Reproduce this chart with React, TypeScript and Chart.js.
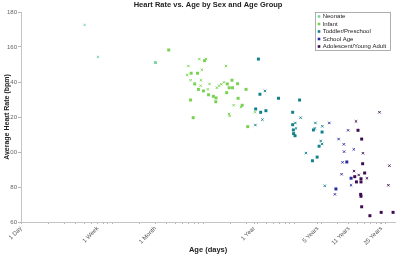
import React, { useEffect, useRef } from "react";
import { Chart, registerables } from "chart.js";

Chart.register(...registerables);

// ---- Data (age in days, average heart rate in bpm) ----
const groupNames = ["Neonate", "Infant", "Toddler/Preschool", "School Age", "Adolescent/Young Adult"];
const groupColors = ["#7fd4a4", "#78d24f", "#10808a", "#2a2aa0", "#3c0a50"];

const neonateMaleAge = [30];
const neonateMaleHR = [151.1];
const neonateFemaleAge = [5, 7];
const neonateFemaleHR = [172.6, 154.3];

const infantMaleAge = [42, 104, 74, 87, 81, 185, 208, 240, 194, 211, 297, 89, 101, 115, 130, 139, 138, 182, 73, 243, 269, 78, 310];
const infantMaleHR = [158.3, 152.2, 145.0, 145.0, 138.9, 138.9, 141.0, 139.0, 136.7, 136.7, 135.8, 135.8, 134.9, 132.7, 131.8, 130.9, 128.7, 133.9, 129.7, 130.7, 126.7, 119.6, 114.5];
const infantFemaleAge = [91, 108, 179, 69, 97, 67, 73, 95, 94, 118, 170, 159, 150, 142, 113, 217, 262, 193, 196, 373];
const infantFemaleHR = [153.1, 153.1, 149.1, 149.1, 147.0, 144.0, 141.0, 141.0, 137.9, 138.9, 139.8, 138.7, 137.9, 136.7, 135.8, 126.7, 125.7, 121.7, 120.6, 122.7];

const toddlerMaleAge = [406, 422, 675, 379, 430, 491, 1151, 966, 966, 983, 990, 1026, 1634, 2032, 1885, 1794, 1594];
const toddlerMaleHR = [153.1, 133.0, 130.7, 124.6, 122.7, 123.6, 129.7, 122.7, 115.6, 112.6, 110.5, 109.3, 112.6, 111.4, 103.3, 97.1, 95.0];
const toddlerFemaleAge = [479, 449, 376, 1180, 1033, 1052, 1718, 1692, 2047, 1967, 2032, 1351, 2175];
const toddlerFemaleHR = [134.9, 118.5, 115.4, 119.6, 116.6, 113.5, 116.6, 113.5, 114.7, 106.3, 104.6, 99.4, 80.7];

const schoolMaleAge = [3802, 4235, 2886];
const schoolMaleHR = [94.3, 85.0, 78.9];
const schoolFemaleAge = [2440, 3928, 3090, 3525, 3553, 4531, 3413, 3329, 4235, 2814];
const schoolFemaleHR = [116.6, 112.4, 107.4, 104.4, 100.2, 101.5, 94.1, 87.3, 81.0, 75.8];

const adolMaleAge = [5046, 5537, 5675, 5970, 4645, 5442, 4851, 5442, 5400, 5442, 5537, 6820, 9070, 12250];
const adolMaleHR = [112.4, 107.4, 93.3, 88.0, 85.9, 84.7, 82.9, 82.9, 75.8, 74.7, 68.7, 63.6, 65.5, 65.5];
const adolFemaleAge = [8690, 4800, 5718, 11170, 4565, 5137, 6324, 10890];
const adolFemaleHR = [122.7, 117.5, 99.3, 92.2, 89.1, 86.9, 85.0, 81.0];

const xTickDays = [1, 7, 30, 365, 1825, 4015, 9125];
const xTickLabels = ["1 Day", "1 Week", "1 Month", "1 Year", "5 Years", "11 Years", "25 Years"];
const yTicks = [60, 80, 100, 120, 140, 160, 180];

const X_MIN = 1;
const X_MAX = 12900;

const groupData = [
  { m: [neonateMaleAge, neonateMaleHR], f: [neonateFemaleAge, neonateFemaleHR] },
  { m: [infantMaleAge, infantMaleHR], f: [infantFemaleAge, infantFemaleHR] },
  { m: [toddlerMaleAge, toddlerMaleHR], f: [toddlerFemaleAge, toddlerFemaleHR] },
  { m: [schoolMaleAge, schoolMaleHR], f: [schoolFemaleAge, schoolFemaleHR] },
  { m: [adolMaleAge, adolMaleHR], f: [adolFemaleAge, adolFemaleHR] },
];

const toPts = (ages: number[], hr: number[]) => ages.map((a, i) => ({ x: a, y: hr[i] }));

const FONT = "'Liberation Sans', Arial, Helvetica, sans-serif";

const legendPlugin = {
  id: "boxLegend",
  afterDatasetsDraw(chart: any) {
    const { ctx, chartArea } = chart;
    const w = 75;
    const h = 38;
    const x0 = Math.round(chartArea.right - 80) + 0.5;
    const y0 = Math.round(chartArea.top) + 0.5;
    ctx.save();
    ctx.fillStyle = "#ffffff";
    ctx.fillRect(x0, y0, w, h);
    ctx.strokeStyle = "#9a9a9a";
    ctx.lineWidth = 0.8;
    ctx.strokeRect(x0, y0, w, h);
    ctx.font = `6px ${FONT}`;
    ctx.textBaseline = "middle";
    ctx.textAlign = "left";
    groupNames.forEach((name, i) => {
      const y = y0 + 4 + i * 7.5;
      ctx.fillStyle = groupColors[i];
      ctx.fillRect(x0 + 2.2, y - 1.3, 2.6, 2.6);
      ctx.fillStyle = "#222222";
      ctx.fillText(name, x0 + 7.2, y);
    });
    ctx.restore();
  },
};

export default function App() {
  const ref = useRef<HTMLCanvasElement>(null);

  useEffect(() => {
    document.body.style.margin = "0";
    Chart.defaults.font.family = FONT;

    const datasets: any[] = [];
    groupData.forEach((g, i) => {
      datasets.push({
        label: groupNames[i] + " (M)",
        data: toPts(g.m[0], g.m[1]),
        pointStyle: "rect",
        pointRadius: 2.1,
        pointBorderWidth: 0,
        backgroundColor: groupColors[i],
        borderColor: groupColors[i],
        showLine: false,
      });
      datasets.push({
        label: groupNames[i] + " (F)",
        data: toPts(g.f[0], g.f[1]),
        pointStyle: "crossRot",
        pointRadius: 1.7,
        pointBorderWidth: 0.9,
        backgroundColor: groupColors[i],
        borderColor: groupColors[i],
        showLine: false,
      });
    });

    const chart = new Chart(ref.current!, {
      type: "scatter",
      data: { datasets },
      plugins: [legendPlugin],
      options: {
        animation: false,
        responsive: false,
        devicePixelRatio: 1,
        layout: { padding: { left: 0, right: 2, top: 0, bottom: 0 } },
        plugins: {
          legend: { display: false },
          tooltip: { enabled: false },
          title: {
            display: true,
            text: "Heart Rate vs. Age by Sex and Age Group",
            fullSize: false,
            color: "#222222",
            font: { size: 7.5, weight: "bold", family: FONT },
            padding: { top: 0, bottom: 3 },
          },
        },
        scales: {
          x: {
            type: "logarithmic",
            min: X_MIN,
            max: X_MAX,
            afterBuildTicks: (scale: any) => {
              const vals: number[] = [];
              for (let p = 1; p <= X_MAX; p *= 10) {
                for (let m = 1; m <= 9; m++) {
                  const v = m * p;
                  if (v <= X_MAX) vals.push(v);
                }
              }
              xTickDays.forEach((d) => vals.push(d));
              const uniq = Array.from(new Set(vals)).sort((a, b) => a - b);
              scale.ticks = uniq.map((v) => ({ value: v }));
            },
            afterFit: (scale: any) => {
              scale.height = 34;
            },
            ticks: {
              autoSkip: false,
              minRotation: 45,
              maxRotation: 45,
              padding: 1,
              color: "#555555",
              font: { size: 6, family: FONT },
              callback: (v: any) => {
                const idx = xTickDays.indexOf(Number(v));
                return idx >= 0 ? xTickLabels[idx] : "";
              },
            },
            grid: {
              display: true,
              drawOnChartArea: false,
              drawTicks: true,
              tickLength: 2,
              color: "#b5b5b5",
            },
            border: { display: true, color: "#c4c4c4", width: 1 },
            title: {
              display: true,
              text: "Age (days)",
              color: "#222222",
              font: { size: 7.5, weight: "bold", family: FONT },
              padding: { top: 0, bottom: 1.5 },
            },
          },
          y: {
            type: "linear",
            min: 60,
            max: 180,
            afterBuildTicks: (scale: any) => {
              scale.ticks = yTicks.map((v) => ({ value: v }));
            },
            afterFit: (scale: any) => {
              scale.width = 21;
            },
            ticks: {
              padding: 1,
              color: "#666666",
              font: { size: 6, family: FONT },
            },
            grid: {
              display: true,
              drawOnChartArea: false,
              drawTicks: true,
              tickLength: 3,
              color: "#b5b5b5",
            },
            border: { display: true, color: "#c4c4c4", width: 1 },
            title: {
              display: true,
              text: "Average Heart Rate (bpm)",
              color: "#222222",
              font: { size: 7, weight: "bold", family: FONT },
              padding: { top: 2.5, bottom: 0 },
            },
          },
        },
      } as any,
    });
    return () => chart.destroy();
  }, []);

  return (
    <div style={{ width: 400, height: 256 }}>
      <canvas ref={ref} width={400} height={256} style={{ display: "block" }} />
    </div>
  );
}
